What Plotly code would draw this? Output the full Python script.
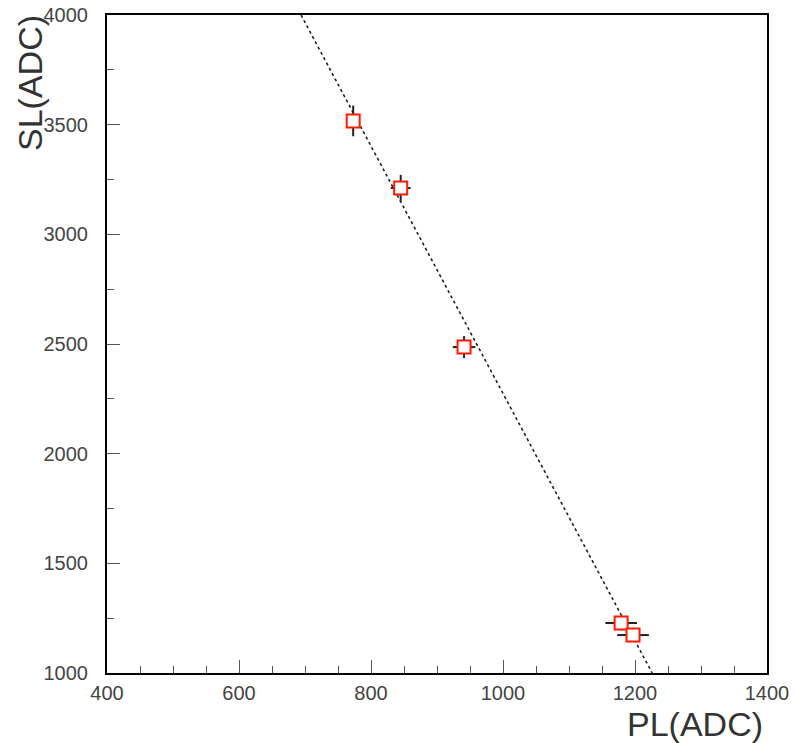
import plotly.graph_objects as go

# Data
pl = [773, 845, 941, 1179, 1197]
sl = [3517, 3211, 2486, 1228, 1173]
pl_err = [10, 15, 17, 24, 24]
sl_err = [70, 60, 50, 12, 10]

fit_x = [694, 1226]
fit_y = [4000, 1000]

x_ticks = [400, 600, 800, 1000, 1200, 1400]
y_ticks = [1000, 1500, 2000, 2500, 3000, 3500, 4000]

FONT = "Liberation Sans, Arial, sans-serif"

fig = go.Figure()

fig.add_trace(go.Scatter(
    x=fit_x, y=fit_y, mode="lines",
    line=dict(color="#222222", width=1.6, dash="dot"),
    showlegend=False, hoverinfo="skip",
))

fig.add_trace(go.Scatter(
    x=pl, y=sl, mode="markers",
    marker=dict(symbol="square", size=13, color="white",
                line=dict(color="#ff1a00", width=2)),
    error_x=dict(type="data", array=pl_err, color="#222222", thickness=2, width=0),
    error_y=dict(type="data", array=sl_err, color="#222222", thickness=2, width=0),
    showlegend=False,
))

axis_common = dict(
    showgrid=False, zeroline=False, automargin=False,
    showline=True, linecolor="black", linewidth=2, mirror=True,
    ticks="inside", ticklen=13, tickwidth=1, tickcolor="#555555",
    tickfont=dict(family=FONT, size=20, color="#444444"),
)

fig.update_xaxes(
    range=[400, 1400], tickvals=x_ticks, ticktext=[str(v) for v in x_ticks],
    minor=dict(ticks="inside", ticklen=7, dtick=50, tickcolor="#555555", tickwidth=1),
    ticklabelstandoff=1,
    **axis_common,
)
fig.update_yaxes(
    range=[1000, 4000], tickvals=y_ticks, ticktext=[str(v) for v in y_ticks],
    minor=dict(ticks="inside", ticklen=7, dtick=250, tickcolor="#555555", tickwidth=1),
    ticklabelstandoff=13,
    **axis_common,
)

fig.update_layout(
    width=795, height=743,
    margin=dict(l=107, r=28, t=15, b=70),
    paper_bgcolor="white", plot_bgcolor="white",
    annotations=[
        dict(text="PL(ADC)", xref="paper", yref="paper", x=1.0, y=0,
             xanchor="right", yanchor="middle", yshift=-51, xshift=-2,
             showarrow=False, font=dict(family=FONT, size=34, color="#333333")),
        dict(text="SL(ADC)", xref="paper", yref="paper", x=0, y=1.0,
             xanchor="center", yanchor="top", xshift=-77, yshift=2, textangle=-90,
             showarrow=False, font=dict(family=FONT, size=34, color="#333333")),
    ],
)

# remove the browser's default body margin so the figure sits at the page origin
fig.write_html(
    "out.html",
    config={"displayModeBar": False},
    post_script="document.body.style.margin='0';document.body.style.overflow='hidden';",
)
